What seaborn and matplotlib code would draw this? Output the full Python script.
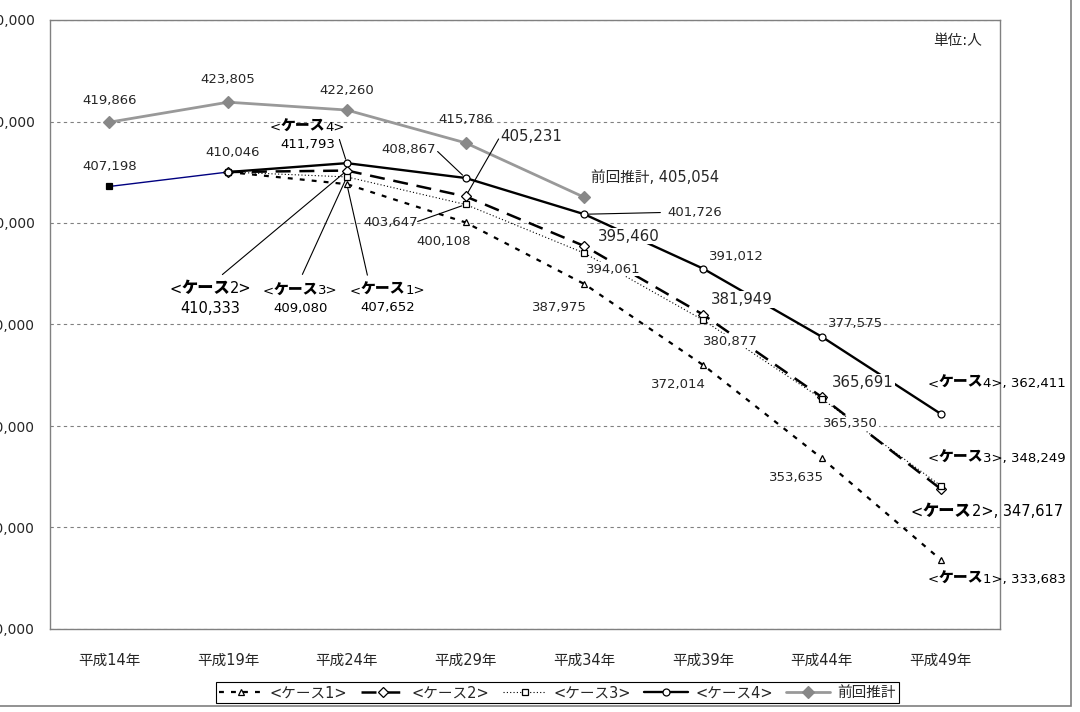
import matplotlib
matplotlib.use('Agg')
import matplotlib.pyplot as plt
from matplotlib.patches import Rectangle
from matplotlib.ticker import FuncFormatter, MultipleLocator, FixedLocator
from matplotlib.offsetbox import TextArea, HPacker, VPacker, AnnotationBbox
import pandas as pd
import seaborn as sns

sns.set_style('white')
plt.rcParams['font.family'] = ['DejaVu Sans', 'Noto Sans CJK JP']

# data
years = ['平成14年', '平成19年', '平成24年', '平成29年', '平成34年', '平成39年', '平成44年', '平成49年']
actual_years = years[0:2]
actual = [407198, 410046]
case_years = years[1:]
case1 = [410046, 407652, 400108, 387975, 372014, 353635, 333683]
case2 = [410046, 410333, 405231, 395460, 381949, 365691, 347617]
case3 = [410046, 409080, 403647, 394061, 380877, 365350, 348249]
case4 = [410046, 411793, 408867, 401726, 391012, 377575, 362411]
prev_years = years[0:5]
prev = [419866, 423805, 422260, 415786, 405054]
case_names = ['<ケース1>', '<ケース2>', '<ケース3>', '<ケース4>']
prev_name = '前回推計'
unit_text = '単位:人'


def frame(yrs, vals):
    return pd.DataFrame({'x': [years.index(y) for y in yrs], 'y': vals})


fig = plt.figure(figsize=(10.8, 7.12), dpi=100)
ax = fig.add_axes([50 / 1080, 83 / 712, 950 / 1080, 609 / 712])

common = dict(ax=ax, x='x', y='y', errorbar=None, markerfacecolor='white',
              markeredgecolor='black', markeredgewidth=0.9)

sns.lineplot(data=frame(prev_years, prev), color='#999999', lw=2.0, marker='D',
             markersize=6, label=prev_name, zorder=3,
             **{**common, 'markerfacecolor': '#888888', 'markeredgecolor': '#888888'})
sns.lineplot(data=frame(actual_years, actual), color='#000080', lw=1.0, marker='s',
             markersize=5, markevery=[0], label='_nolegend_', zorder=3,
             **{**common, 'markerfacecolor': 'black'})
sns.lineplot(data=frame(case_years, case1), color='black', lw=1.6, marker='^',
             markersize=5, linestyle=(0, (2.2, 3.2)), label=case_names[0], zorder=4, **common)
sns.lineplot(data=frame(case_years, case2), color='black', lw=1.8, marker='D',
             markersize=5.5, linestyle=(0, (6, 3.5)), label=case_names[1], zorder=4, **common)
sns.lineplot(data=frame(case_years, case3), color='black', lw=0.8, marker='s',
             markersize=5, linestyle=(0, (1, 2)), label=case_names[2], zorder=4, **common)
sns.lineplot(data=frame(case_years, case4), color='black', lw=1.7, marker='o',
             markersize=5, label=case_names[3], zorder=5, **common)

handles, labels = ax.get_legend_handles_labels()
if ax.get_legend() is not None:
    ax.get_legend().remove()

ax.set_xlim(-0.5, len(years) - 0.5)
ax.set_ylim(320000, 440000)
ax.yaxis.set_major_locator(MultipleLocator(20000))
ax.yaxis.set_major_formatter(FuncFormatter(lambda v, p: f'{int(v):,}'))
ax.set_xticks(range(len(years)))
ax.set_xticklabels(years)
ax.xaxis.set_minor_locator(FixedLocator([i + 0.5 for i in range(len(years) - 1)]))
ax.tick_params(axis='x', which='major', length=0, pad=17, labelsize=10.5)
ax.tick_params(axis='x', which='minor', length=4, direction='in', color='#555555')
ax.tick_params(axis='y', length=0, pad=11, labelsize=10)
ax.set_xlabel('')
ax.set_ylabel('')
ax.grid(axis='y', color='#808080', lw=0.8, linestyle=(0, (3, 3)))
ax.grid(axis='x', visible=False)
for s in ax.spines.values():
    s.set_color('#808080')
    s.set_linewidth(1.0)


def leader(i, v, start):
    ax.annotate('', xy=(i, v), xytext=start, textcoords='offset pixels', zorder=6,
                arrowprops=dict(arrowstyle='-', color='black', lw=0.8,
                                shrinkA=0, shrinkB=3))


def label(i, v, text, dx, dy, ha='center', size=9.5, box=False, lead=None):
    ax.annotate(text, xy=(i, v), xytext=(dx, dy), textcoords='offset pixels',
                ha=ha, va='center', fontsize=size, zorder=7,
                bbox=dict(fc='white', ec='none', pad=0.6) if box else None)
    if lead is not None:
        leader(i, v, lead)


def case_label(i, v, k, dx, dy, two_lines=False, ha='center', size=9.5, lead=None):
    tp = dict(fontsize=size, color='black')
    tpb = dict(fontsize=size + 1.2, color='black', fontweight='heavy')
    tail = f'{k}>' if two_lines else f'{k}>, {v:,}'
    row = HPacker(children=[TextArea('<', textprops=tp), TextArea('ケース', textprops=tpb),
                            TextArea(tail, textprops=tp)], align='baseline', pad=0, sep=0)
    box = row
    if two_lines:
        box = VPacker(children=[row, TextArea(f'{v:,}', textprops=tp)],
                      align='center', pad=0, sep=3)
    ab = AnnotationBbox(box, (i, v), xybox=(dx, dy), boxcoords='offset pixels',
                        frameon=False, pad=0, zorder=7,
                        box_alignment=(0.5 if ha == 'center' else 0.0, 0.5))
    ax.add_artist(ab)
    if lead is not None:
        leader(i, v, lead)


# previous projection
for k, (dx, dy) in enumerate([(0, 22), (0, 23), (0, 20), (0, 23)]):
    label(years.index(prev_years[k]), prev[k], f'{prev[k]:,}', dx, dy)
label(years.index(prev_years[4]), prev[4], f'{prev_name}, {prev[4]:,}', 7, 20,
      ha='left', size=10.5)

# actual
label(0, actual[0], f'{actual[0]:,}', 0, 20)
label(1, actual[1], f'{actual[1]:,}', 4, 20)

# case 4
case_label(2, case4[1], 4, -39.5, 28, two_lines=True, lead=(-7.5, 23.7))
label(3, case4[2], f'{case4[2]:,}', -57, 28.5, lead=(-28, 26.5))
label(4, case4[3], f'{case4[3]:,}', 110, 1.7, lead=(76, 1.7))
label(5, case4[4], f'{case4[4]:,}', 33, 12)
label(6, case4[5], f'{case4[5]:,}', 34, 13)
case_label(7, case4[6], 4, -13, 31, ha='left')

# case 2
case_label(2, case2[1], 2, -136.5, -128, two_lines=True, size=10.5, lead=(-124.5, -104))
label(3, case2[2], f'{case2[2]:,}', 66, 59.5, size=10.8, lead=(33, 57.5))
label(4, case2[3], f'{case2[3]:,}', 44, 10, size=10.8, box=True)
label(5, case2[4], f'{case2[4]:,}', 39, 15, size=10.8, box=True)
label(6, case2[5], f'{case2[5]:,}', 41, 15, size=10.8, box=True)
case_label(7, case2[6], 2, -30, -23, ha='left', size=10.5)

# case 3
case_label(2, case3[1], 3, -46.5, -121.5, two_lines=True, lead=(-44.5, -97.5))
label(3, case3[2], f'{case3[2]:,}', -75, -18, lead=(-48, -17))
label(4, case3[3], f'{case3[3]:,}', 29, -16, box=True)
label(5, case3[4], f'{case3[4]:,}', 27, -21, box=True)
label(6, case3[5], f'{case3[5]:,}', 29, -25, box=True)
case_label(7, case3[6], 3, -13, 28.5, ha='left')

# case 1
case_label(2, case1[1], 1, 40.5, -114, two_lines=True, lead=(20.5, -91))
label(3, case1[2], f'{case1[2]:,}', -22, -19)
label(4, case1[3], f'{case1[3]:,}', -25, -23.5, box=True)
label(5, case1[4], f'{case1[4]:,}', -25, -19.5, box=True)
label(6, case1[5], f'{case1[5]:,}', -25.5, -19, box=True)
case_label(7, case1[6], 1, -13, -19, ha='left')

ax.text(0.981, 0.966, unit_text, transform=ax.transAxes, ha='right', va='center',
        fontsize=10.5)

# legend in the order of the reference
order = [labels.index(n) for n in case_names + [prev_name]]
leg = fig.legend([handles[k] for k in order], [labels[k] for k in order],
                 loc='center', bbox_to_anchor=(0.516, 0.027), ncol=5, frameon=True,
                 fancybox=False, edgecolor='black', framealpha=1, fontsize=10.5,
                 handlelength=3.0, handletextpad=0.5, columnspacing=0.9, borderpad=0.2)
leg.get_frame().set_linewidth(0.8)

# outer chart border (left and top fall outside the picture)
fig.add_artist(Rectangle((-0.02, 6 / 712), 1071 / 1080 + 0.02, 1.1,
                         transform=fig.transFigure, fill=False,
                         edgecolor='#7f7f7f', lw=1.2))

fig.savefig('out.png', dpi=100)
